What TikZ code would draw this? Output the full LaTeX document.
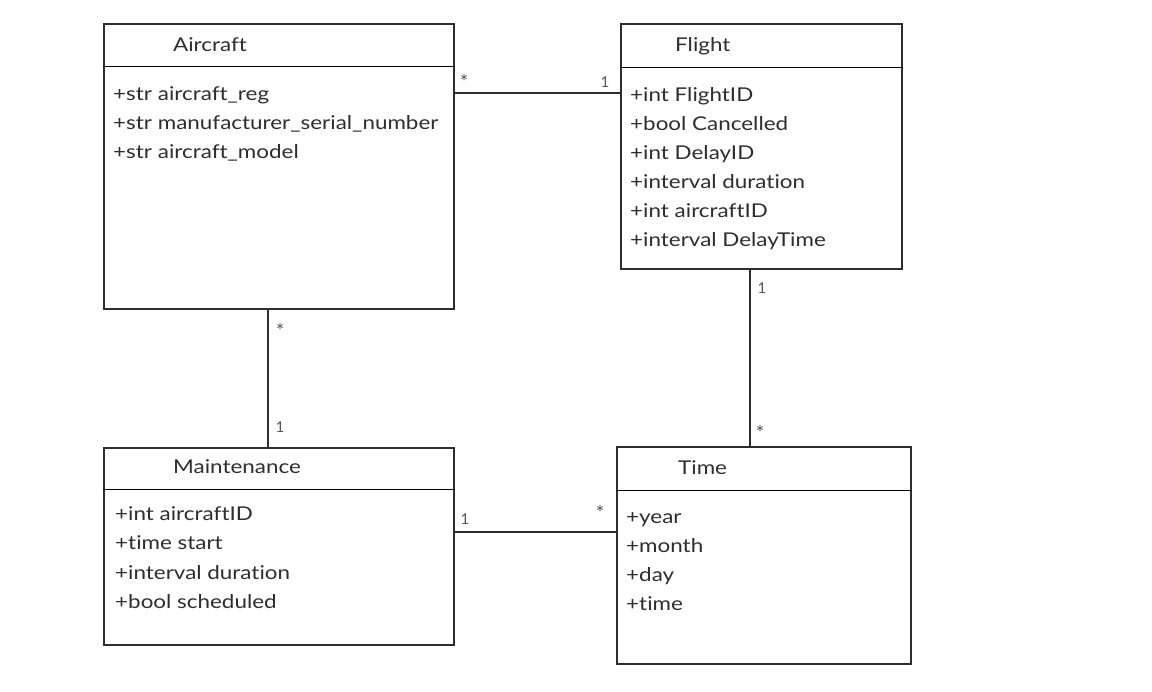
\documentclass[tikz,border=0pt]{standalone}
\usepackage{fontspec}
\setmainfont{Lato}[Ligatures={NoCommon,NoRequired,NoContextual},FakeStretch=1.18]
\newfontfamily\multfont{Lato}
\usetikzlibrary{calc}
\definecolor{ink}{HTML}{2E2E2E}
\definecolor{mult}{HTML}{555555}
\tikzset{
  x=1pt,y=-1pt,
  classbox/.style={draw=ink,line width=2pt,rectangle,inner sep=0pt,anchor=north west},
  divider/.style={draw=black,line width=1pt},
  assoc/.style={draw=ink,line width=2pt},
  titletext/.style={anchor=base west,inner sep=0pt,text=ink,font=\fontsize{19}{22}\selectfont},
  attrtext/.style={anchor=base west,inner sep=0pt,text=ink,font=\fontsize{19}{22}\selectfont},
  multtext/.style={inner sep=0pt,text=mult,font=\multfont\fontsize{15}{17}\selectfont},
  startext/.style={inner sep=0pt,text=mult,font=\multfont\fontsize{20}{22}\selectfont},
}
\begin{document}
\begin{tikzpicture}
\useasboundingbox[fill=white] (0,0) rectangle (1152,692);
% boxes
\node[classbox,minimum width=350pt,minimum height=285pt] (aircraft) at (103,23) {};
\node[classbox,minimum width=281pt,minimum height=245pt] (flight) at (620,23) {};
\node[classbox,minimum width=350pt,minimum height=197pt] (maint) at (103,447) {};
\node[classbox,minimum width=294pt,minimum height=217pt] (time) at (616,446) {};
% dividers
\draw[divider] ($(aircraft.north west)+(0,44)$) -- ($(aircraft.north east)+(0,44)$);
\draw[divider] ($(flight.north west)+(0,45)$) -- ($(flight.north east)+(0,45)$);
\draw[divider] ($(maint.north west)+(0,43)$) -- ($(maint.north east)+(0,43)$);
\draw[divider] ($(time.north west)+(0,45)$) -- ($(time.north east)+(0,45)$);
% titles
\node[titletext] (aircraftT) at (173,52) {Aircraft};
\node[titletext] (flightT) at (675,52) {Flight};
\node[titletext] (maintT) at (173,474) {Maintenance};
\node[titletext] (timeT) at (678,475) {Time};
% attributes
\node[attrtext] (a1) at (113,101) {+str aircraft\_reg};
\node[attrtext] (a2) at (113,130) {+str manufacturer\_serial\_number};
\node[attrtext] (a3) at (113,159) {+str aircraft\_model};
\node[attrtext] (f1) at (630,102) {+int FlightID};
\node[attrtext] (f2) at (630,131) {+bool Cancelled};
\node[attrtext] (f3) at (630,160) {+int DelayID};
\node[attrtext] (f4) at (630,189) {+interval duration};
\node[attrtext] (f5) at (630,218) {+int aircraftID};
\node[attrtext] (f6) at (630,247) {+interval DelayTime};
\node[attrtext] (m1) at (115,521) {+int aircraftID};
\node[attrtext] (m2) at (115,550) {+time start};
\node[attrtext] (m3) at (115,579) {+interval duration};
\node[attrtext] (m4) at (115,608) {+bool scheduled};
\node[attrtext] (t1) at (626,523) {+year};
\node[attrtext] (t2) at (626,552) {+month};
\node[attrtext] (t3) at (626,581) {+day};
\node[attrtext] (t4) at (626,610) {+time};
% associations
\coordinate (af) at ($(aircraft.north east)+(0,70)$);
\draw[assoc] (af) -- (af -| flight.west);
\coordinate (am) at ($(aircraft.south west)+(165,0)$);
\draw[assoc] (am) -- (am |- maint.north);
\coordinate (ft) at ($(flight.south west)+(130,0)$);
\draw[assoc] (ft) -- (ft |- time.north);
\coordinate (mt) at ($(maint.north east)+(0,85)$);
\draw[assoc] (mt) -- (mt -| time.west);
% multiplicities
\node[startext] (l1) at (464,82) {*};
\node[multtext] (l2) at (605,82) {1};
\node[startext] (l3) at (280,331) {*};
\node[multtext] (l4) at (280,427) {1};
\node[multtext] (l5) at (762,288) {1};
\node[startext] (l6) at (760,433) {*};
\node[multtext] (l7) at (465,519) {1};
\node[startext] (l8) at (600,513) {*};
\end{tikzpicture}
\end{document}
